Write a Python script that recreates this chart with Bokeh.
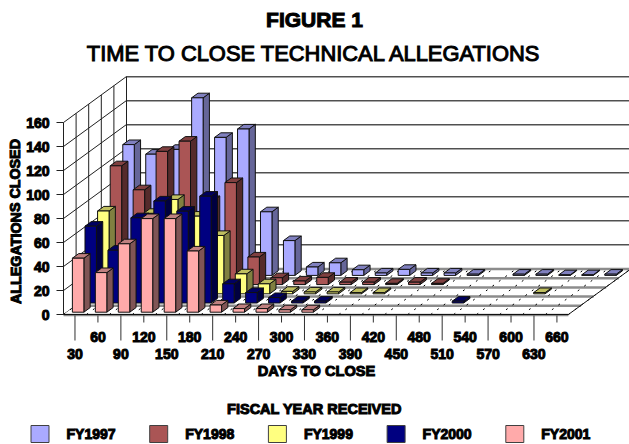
from bokeh.plotting import figure
from bokeh.models import Range1d, ColumnDataSource
from bokeh.core.properties import value
from bokeh.embed import file_html
from bokeh.resources import INLINE

days = [30 + 30 * k for k in range(22)]
yticks = [0, 20, 40, 60, 80, 100, 120, 140, 160]
fy1997 = [109, 101, 105, 148, 115, 122, 53, 29, 7, 10.5, 4.7, 2, 5, 2, 2, 1, 0, 1, 1, 0.5, 0.5, 1]
fy1998 = [99, 79, 111, 119.5, 70, 85, 23, 5.7, 3, 6, 2, 2, 1, 2, 1, 0, 0, 0, 0, 0, 0, 0]
fy1999 = [69, 38, 67, 78.6, 64.7, 48.6, 16.6, 8.3, 2, 1.5, 1.5, 1, 1, 0, 0, 0, 0, 0, 0, 1, 0, 0]
fy2000 = [64, 44, 71, 85, 76.5, 89, 16, 8.7, 4.5, 1.5, 1.5, 0, 0, 0, 0, 0, 1.5, 0, 0, 0, 0, 0]
fy2001 = [45, 33, 57, 78, 78, 51, 6, 3, 3, 2, 2, 0, 0, 0, 0, 0, 0, 0, 0, 0, 0, 0]
series_names = ["FY1997", "FY1998", "FY1999", "FY2000", "FY2001"]
series_values = [fy1997, fy1998, fy1999, fy2000, fy2001]
front_cols = ["#AAAAFF", "#AA5555", "#FFFF80", "#000080", "#FFAAAA"]
side_cols = ["#666699", "#552B2B", "#808040", "#000040", "#805555"]
top_cols = ["#8080BF", "#804040", "#BFBF60", "#000060", "#BF8080"]

FONT = value("Liberation Sans")
X0, Y0 = 63.0, 314.0
CAT = 22.95
DX, DY = 12.6, -9.2
UNIT = 1.2
NROWS = 5


def proj(c, d, v=0.0):
    """category position c, depth d (rows from the front), value v -> page pixel"""
    return X0 + CAT * c + DX * d, Y0 + DY * d - UNIT * v


p = figure(width=629, height=444, x_range=Range1d(0, 629), y_range=Range1d(444, 0),
           output_backend="svg", toolbar_location=None, min_border=0,
           outline_line_color=None, background_fill_color="white", border_fill_color="white")
p.xaxis.visible = False
p.yaxis.visible = False
p.xgrid.visible = False
p.ygrid.visible = False

ncat = len(days)
vmax = yticks[-1]


def seg(a, b, **kw):
    p.line([a[0], b[0]], [a[1], b[1]], **kw)


# back wall and left wall
for t in yticks:
    a, b = proj(0, NROWS, t), proj(ncat, NROWS, t)
    seg((a[0], a[1] + 1), (b[0], b[1] + 1), line_color="#A8A8A8", line_width=1)
    seg(a, b, line_color="#505050", line_width=1)
    seg(proj(0, 0, t), a, line_color="#202020", line_width=1)
    seg((proj(0, 0)[0] - 7, proj(0, 0, t)[1]), proj(0, 0, t), line_color="#202020", line_width=1)
for r in range(1, NROWS + 1):
    seg(proj(0, r, 0), proj(0, r, vmax), line_color="#202020", line_width=1)
seg(proj(0, 0, 0), proj(0, 0, vmax), line_color="#202020", line_width=1)

# floor
fl = [proj(0, 0), proj(ncat, 0), proj(ncat, NROWS), proj(0, NROWS)]
p.patch([q[0] for q in fl], [q[1] for q in fl], fill_color="white", line_color=None)
for r in range(0, NROWS + 1):
    a, b = proj(0, r), proj(ncat, r)
    seg((a[0], a[1] + 0.5), (b[0], b[1] + 0.5), line_color="#8C8C8C", line_width=2.5)
for c in range(0, ncat + 1):
    seg(proj(c, 0), proj(c, NROWS), line_color="black", line_width=1, line_dash="2 6")
seg(proj(0, 0), proj(ncat, 0), line_color="#101010", line_width=1)
seg(proj(ncat, 0), proj(ncat, NROWS), line_color="#101010", line_width=1)

# bars, back row first
for row, vals in enumerate(series_values):
    depth = NROWS - row - 1
    d0, d1 = depth + 0.25, depth + 0.75
    fx, fy, sx, sy, tx, ty = [], [], [], [], [], []
    for i, v in enumerate(vals):
        if not v:
            continue
        c0, c1 = i + 0.25, i + 0.75
        f = [proj(c0, d0, 0), proj(c1, d0, 0), proj(c1, d0, v), proj(c0, d0, v)]
        s = [proj(c1, d0, 0), proj(c1, d1, 0), proj(c1, d1, v), proj(c1, d0, v)]
        t = [proj(c0, d0, v), proj(c1, d0, v), proj(c1, d1, v), proj(c0, d1, v)]
        fx.append([q[0] for q in f]); fy.append([q[1] for q in f])
        sx.append([q[0] for q in s]); sy.append([q[1] for q in s])
        tx.append([q[0] for q in t]); ty.append([q[1] for q in t])
    kw = dict(line_color="#101010", line_width=1, line_join="miter")
    p.patches(sx, sy, fill_color=side_cols[row], **kw)
    p.patches(tx, ty, fill_color=top_cols[row], **kw)
    p.patches(fx, fy, fill_color=front_cols[row], **kw)

HEAVY = dict(text_outline_color="black")
BOLD = dict(text_font=FONT, text_font_style="bold", text_align="center", text_baseline="middle",
            text_color="black", **HEAVY)

# x ticks and labels
for k, d in enumerate(days):
    x, y = proj(k + 0.5, 0)
    long_tick = k % 2 == 0
    seg((x, y + 1), (x, y + (26 if long_tick else 8)), line_color="#303030", line_width=1)
    p.text([x], [y + (39 if long_tick else 22)], text=[str(d)], text_font_size="14px", **BOLD)

# y labels
for t in yticks:
    x, y = proj(0, 0, t)
    p.text([x - 14], [y], text=[str(t)], text_font=FONT, text_font_style="bold", text_font_size="14px",
           text_align="right", text_baseline="middle", text_color="black", **HEAVY)

p.text([314], [19], text=["FIGURE 1"], text_font_size="21px", **BOLD)
p.text([314], [53], text=["TIME TO CLOSE TECHNICAL ALLEGATIONS"], text_font=FONT, text_font_size="21.9px",
       text_align="center", text_baseline="middle", text_color="black", **HEAVY)
p.text([15], [221], text=["ALLEGATIONS CLOSED"], angle=1.5708, text_font_size="14.3px", **BOLD)
p.text([316], [370], text=["DAYS TO CLOSE"], text_font_size="14.6px", **BOLD)
p.text([314], [408], text=["FISCAL YEAR RECEIVED"], text_font_size="14.5px", **BOLD)

# legend
for k, name in enumerate(series_names):
    x = 30 + 118.7 * k
    p.quad(left=[x + 0.5], right=[x + 18.5], top=[425], bottom=[442], fill_color=front_cols[k],
           line_color="#404040", line_width=1)
    p.text([x + 36], [433], text=[name], text_font=FONT, text_font_style="bold", text_font_size="14px",
           text_align="left", text_baseline="middle", text_color="black", **HEAVY)

open("out.html", "w").write(file_html(p, INLINE))
